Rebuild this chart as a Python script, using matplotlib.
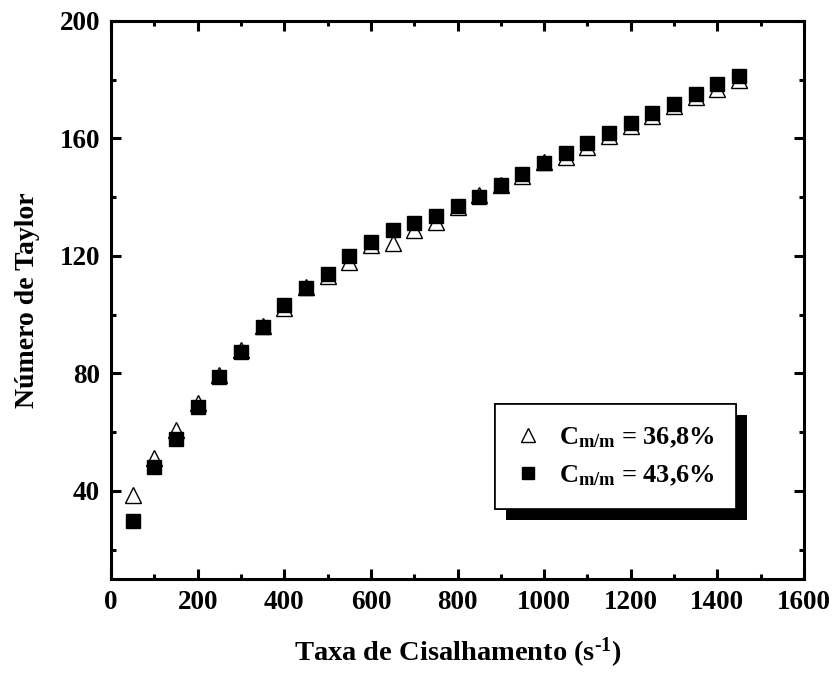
import matplotlib
matplotlib.use("Agg")
import matplotlib.pyplot as plt
import matplotlib.patheffects as pe
from matplotlib.ticker import MultipleLocator

# taxa de cisalhamento (1/s)
shear_rate = [50, 100, 150, 200, 250, 300, 350, 400, 450, 500, 550, 600, 650, 700, 750,
              800, 850, 900, 950, 1000, 1050, 1100, 1150, 1200, 1250, 1300, 1350, 1400, 1450]

# numero de Taylor, C = 36,8%
taylor_368 = [38.7, 51.2, 60.7, 69.8, 79.3, 88.0, 96.3, 102.3, 109.5, 113.3, 118.0, 123.7,
              124.3, 128.8, 131.6, 136.6, 140.6, 144.0, 147.3, 152.0, 153.7, 157.2, 160.7,
              164.2, 167.6, 170.9, 174.1, 176.7, 180.0]

# numero de Taylor, C = 43,6%
taylor_436 = [29.9, 48.3, 57.7, 68.7, 78.9, 87.4, 95.9, 103.3, 109.2, 113.8, 120.0, 124.6,
              128.8, 131.3, 133.7, 137.0, 140.1, 144.1, 147.8, 151.7, 155.2, 158.6, 162.0,
              165.4, 168.8, 171.9, 175.0, 178.4, 181.2]

labels = [r"$C_{m/m}$ = 36,8%", r"$C_{m/m}$ = 43,6%"]

plt.rcParams["font.family"] = "Liberation Serif"
plt.rcParams["font.weight"] = "bold"
plt.rcParams["mathtext.fontset"] = "custom"
plt.rcParams["mathtext.rm"] = "Liberation Serif:bold"
plt.rcParams["mathtext.it"] = "Liberation Serif:bold"
plt.rcParams["mathtext.bf"] = "Liberation Serif:bold"

fig = plt.figure(figsize=(8.33, 6.75), dpi=100)
ax = fig.add_axes([0.1333, 0.1422, 0.8319, 0.8267])

ax.plot(shear_rate, taylor_368, linestyle="none", marker="^", markersize=12,
        markerfacecolor="white", markeredgecolor="black", markeredgewidth=1.0,
        label=labels[0], zorder=2)
ax.plot(shear_rate, taylor_436, linestyle="none", marker="s", markersize=10,
        markerfacecolor="black", markeredgecolor="black", label=labels[1], zorder=3)

ax.set_xlim(0, 1600)
ax.set_ylim(10, 200)
ax.xaxis.set_major_locator(MultipleLocator(200))
ax.xaxis.set_minor_locator(MultipleLocator(100))
ax.yaxis.set_minor_locator(MultipleLocator(20))
ax.set_yticks([40, 80, 120, 160, 200])

for s in ax.spines.values():
    s.set_linewidth(2.2)
ax.tick_params(which="both", direction="in", top=True, right=True, width=2.2,
               labelsize=19.5, pad=8)
ax.tick_params(which="major", length=7)
ax.tick_params(which="minor", length=3.5)

ax.set_xlabel(r"Taxa de Cisalhamento (s$^{\text{-}1}$)", fontsize=20.5,
              fontweight="bold", labelpad=15)
ax.set_ylabel("Número de Taylor", fontsize=20, fontweight="bold", labelpad=14)

leg = ax.legend(loc="upper left", bbox_to_anchor=(0.554, 0.3136), fancybox=False,
                frameon=True, fontsize=19, handletextpad=0.72, borderpad=0.8,
                labelspacing=0.53, handlelength=0.9, borderaxespad=0)
frame = leg.get_frame()
frame.set_edgecolor("black")
frame.set_linewidth(1.2)
frame.set_alpha(1)
frame.set_path_effects([
    pe.withSimplePatchShadow(offset=(8, -8), shadow_rgbFace="black", alpha=1.0),
    pe.Normal(),
])
for h in leg.legend_handles:
    h.set_markersize(10 if h.get_marker() == "^" else 8)

fig.savefig("out.png", dpi=100)
